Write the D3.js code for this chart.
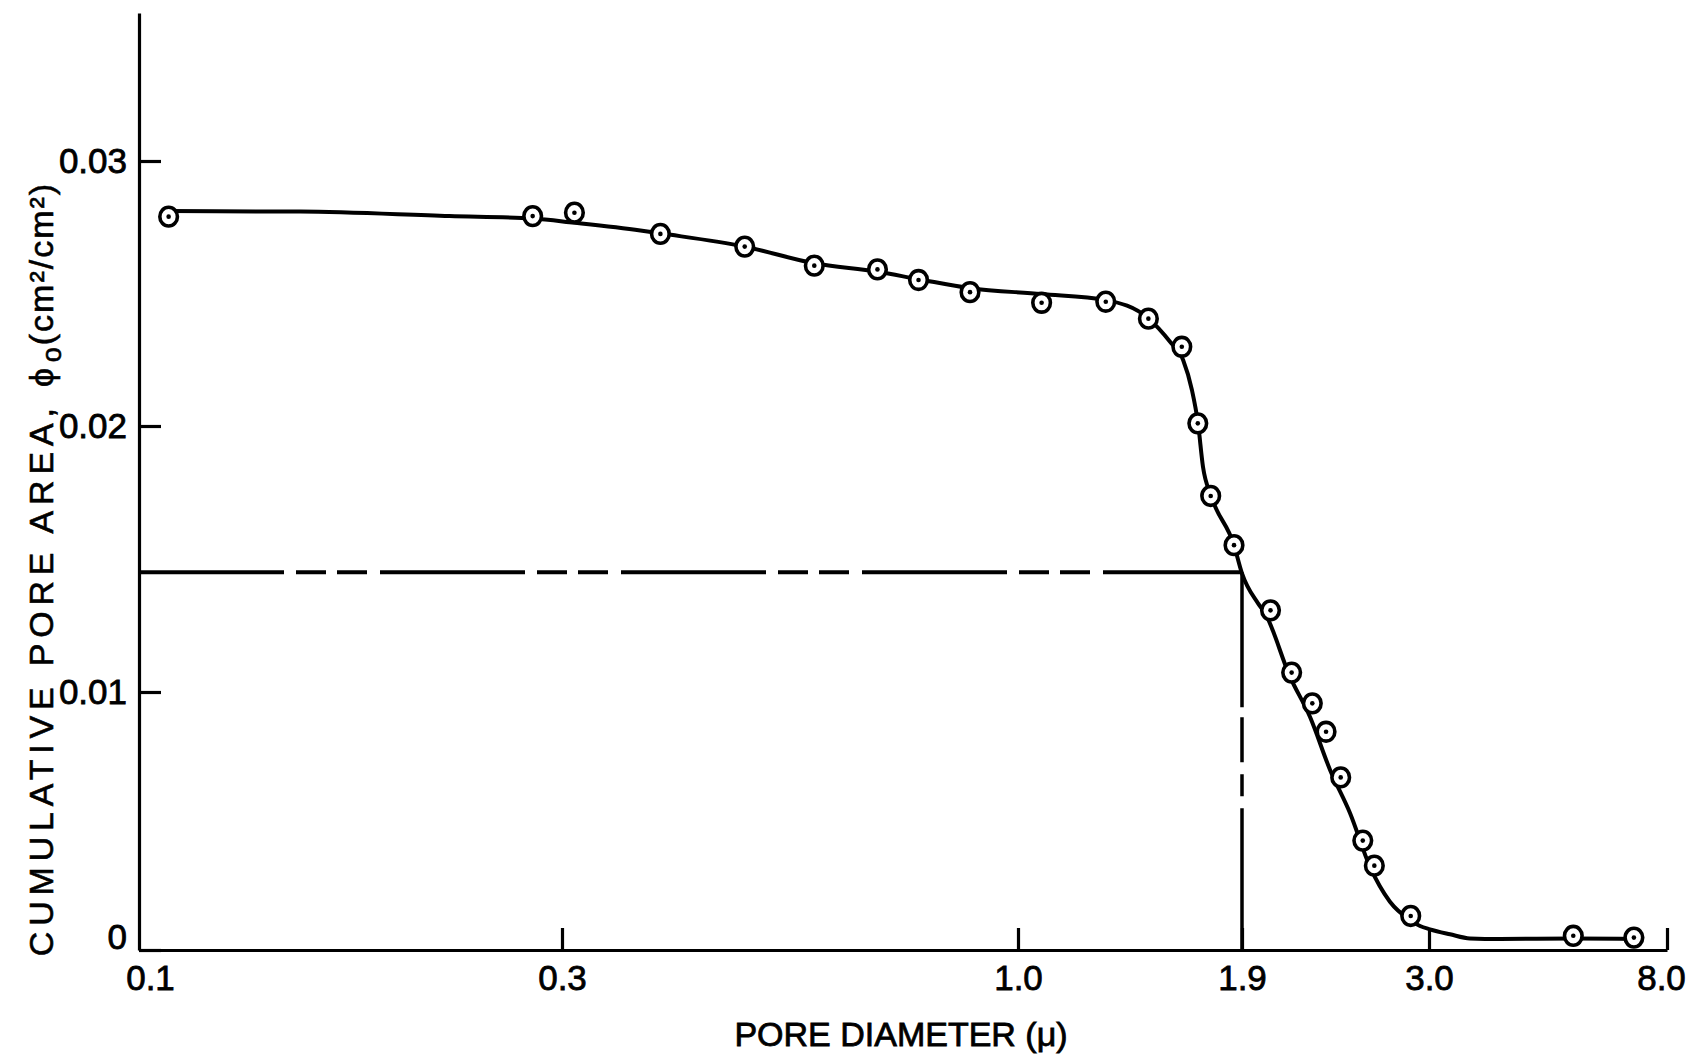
<!DOCTYPE html>
<html>
<head>
<meta charset="utf-8">
<script src="https://cdn.jsdelivr.net/npm/d3@7"></script>
<style>
  body { margin: 0; background: #fff; }
  svg { display: block; }
</style>
</head>
<body>
<div id="chart-container"></div>
<script>
// tick values and labels
const xTickValues = [0.1, 0.3, 1.0, 1.9, 3.0, 8.0];
const xTickLabels = ["0.1", "0.3", "1.0", "1.9", "3.0", "8.0"];
const yTickValues = [0, 0.01, 0.02, 0.03];
const yTickLabels = ["0", "0.01", "0.02", "0.03"];

// measured points (pore diameter in microns, cumulative pore area)
const poreDiameter = [0.108, 0.278, 0.310, 0.389, 0.486, 0.584, 0.690, 0.769, 0.881,
    1.070, 1.286, 1.453, 1.599, 1.674, 1.737, 1.857, 2.037, 2.145, 2.256, 2.333,
    2.418, 2.552, 2.625, 2.869, 5.437, 6.98];
const poreArea = [0.02790, 0.02792, 0.02805, 0.02725, 0.02677, 0.02605, 0.02591, 0.02551, 0.02505,
    0.02465, 0.02469, 0.02405, 0.02299, 0.02010, 0.01737, 0.01552, 0.01307, 0.01073, 0.00956, 0.00846,
    0.00669, 0.00424, 0.00327, 0.00132, 0.00055, 0.00048];

// hand drawn smooth curve through the points
const curveDiameter = [0.108, 0.152, 0.224, 0.278, 0.310, 0.369, 0.389, 0.486, 0.584, 0.690,
    0.769, 0.881, 1.070, 1.286, 1.453, 1.546, 1.605, 1.646, 1.675, 1.699, 1.739, 1.857, 1.9,
    1.976, 2.010, 2.136, 2.243, 2.356, 2.474, 2.597, 2.727, 2.864, 2.935, 3.012, 3.271, 3.552,
    4.020, 5.437, 6.98];
const curveArea = [0.02811, 0.02809, 0.02792, 0.02783, 0.02767, 0.02738, 0.02727, 0.02677, 0.02614, 0.02582,
    0.02554, 0.02520, 0.02498, 0.02475, 0.02406, 0.02318, 0.02249, 0.02136, 0.02010, 0.01847, 0.01737, 0.01552, 0.01446,
    0.01333, 0.01296, 0.01058, 0.00904, 0.00698, 0.00530, 0.00323, 0.00187, 0.00116, 0.00093, 0.00080, 0.00061, 0.00045,
    0.00043, 0.00045, 0.00043];

// reading of the median diameter
const medianDiameter = 1.9;
const medianArea = 0.0145;

const xTitle = "PORE DIAMETER (\u03bc)";

const width = 1693;
const height = 1059;

const svg = d3.select("#chart-container").append("svg")
    .attr("width", width)
    .attr("height", height)
    .attr("viewBox", `0 0 ${width} ${height}`)
    .style("background", "#fff");

// the printed axis is log-like but hand spaced, so each labelled value gets its own stop
const x = d3.scaleLog()
    .domain(xTickValues)
    .range([139, 562, 1018, 1242, 1429, 1667]);

const y = d3.scaleLinear()
    .domain([0, 0.01, 0.02, 0.03, 0.0356])
    .range([950, 692, 426, 161, 13]);

const font = "'Liberation Sans', Arial, sans-serif";

// dashed reading lines
svg.append("path")
    .attr("d", `M${x(0.1)},${y(medianArea)}H${x(medianDiameter)}`)
    .attr("fill", "none")
    .attr("stroke", "#000")
    .attr("stroke-width", 4)
    .attr("stroke-dasharray", "145 12 30 11 30 13");

svg.append("path")
    .attr("d", `M${x(medianDiameter)},${y(medianArea)}V${y(0)}`)
    .attr("fill", "none")
    .attr("stroke", "#000")
    .attr("stroke-width", 3.5)
    .attr("stroke-dasharray", "135 10 45 12 22 12 160");

// fitted curve
const curveData = curveDiameter.map((d, i) => [d, curveArea[i]]);
const line = d3.line()
    .x(d => x(d[0]))
    .y(d => y(d[1]))
    .curve(d3.curveMonotoneX);

svg.append("path")
    .datum(curveData)
    .attr("d", line)
    .attr("fill", "none")
    .attr("stroke", "#000")
    .attr("stroke-width", 4)
    .attr("stroke-linejoin", "round");

// x axis, ticks point inward
const xAxis = svg.append("g")
    .attr("transform", `translate(0,${y(0)})`)
    .call(d3.axisBottom(x)
        .tickValues(xTickValues)
        .tickFormat((d, i) => xTickLabels[i])
        .tickSizeInner(-22)
        .tickSizeOuter(0)
        .tickPadding(15));

xAxis.selectAll(".tick line").filter((d, i) => i === 0).remove();
xAxis.selectAll(".tick text").filter((d, i) => i === 0).attr("dx", 11);
xAxis.selectAll(".tick text").filter((d, i) => i === xTickValues.length - 1).attr("dx", -6);

// y axis
const yAxis = svg.append("g")
    .attr("transform", `translate(${x(0.1)},0)`)
    .call(d3.axisLeft(y)
        .tickValues(yTickValues)
        .tickFormat((d, i) => yTickLabels[i])
        .tickSizeInner(-22)
        .tickSizeOuter(0)
        .tickPadding(12));

yAxis.selectAll(".tick text").filter(d => d === 0).attr("dy", "-0.05em");

[xAxis, yAxis].forEach(g => {
    g.attr("font-family", font).attr("font-size", 35);
    g.selectAll("path, line").attr("stroke", "#000").attr("stroke-width", 3.2);
    g.selectAll("text").attr("fill", "#000").attr("stroke", "#000").attr("stroke-width", 0.8);
});

// data markers: open circle with centre dot
const pts = poreDiameter.map((d, i) => [d, poreArea[i]]);
const marks = svg.append("g")
    .selectAll("g")
    .data(pts)
    .join("g")
    .attr("transform", d => `translate(${x(d[0])},${y(d[1])})`);

marks.append("ellipse")
    .attr("rx", 8.8)
    .attr("ry", 9.4)
    .attr("fill", "#fff")
    .attr("stroke", "#000")
    .attr("stroke-width", 3.6);

marks.append("circle")
    .attr("r", 2.3)
    .attr("fill", "#000");

// axis titles
svg.append("text")
    .attr("x", 901)
    .attr("y", 1046)
    .attr("text-anchor", "middle")
    .attr("font-family", font)
    .attr("font-size", 34)
    .attr("stroke", "#000")
    .attr("stroke-width", 0.8)
    .text(xTitle);

const yTitle = svg.append("text")
    .attr("transform", "translate(53,569) rotate(-90)")
    .attr("text-anchor", "middle")
    .attr("font-family", font)
    .attr("font-size", 34)
    .attr("stroke", "#000")
    .attr("stroke-width", 0.6);

yTitle.append("tspan").attr("letter-spacing", 5.8).text("CUMULATIVE PORE AREA, \u03d5");
yTitle.append("tspan").attr("dy", 8).attr("font-size", 27).attr("letter-spacing", 2).text("o");
yTitle.append("tspan").attr("dy", -8).attr("letter-spacing", 2).text("(cm\u00b2/cm\u00b2)");
</script>
</body>
</html>
